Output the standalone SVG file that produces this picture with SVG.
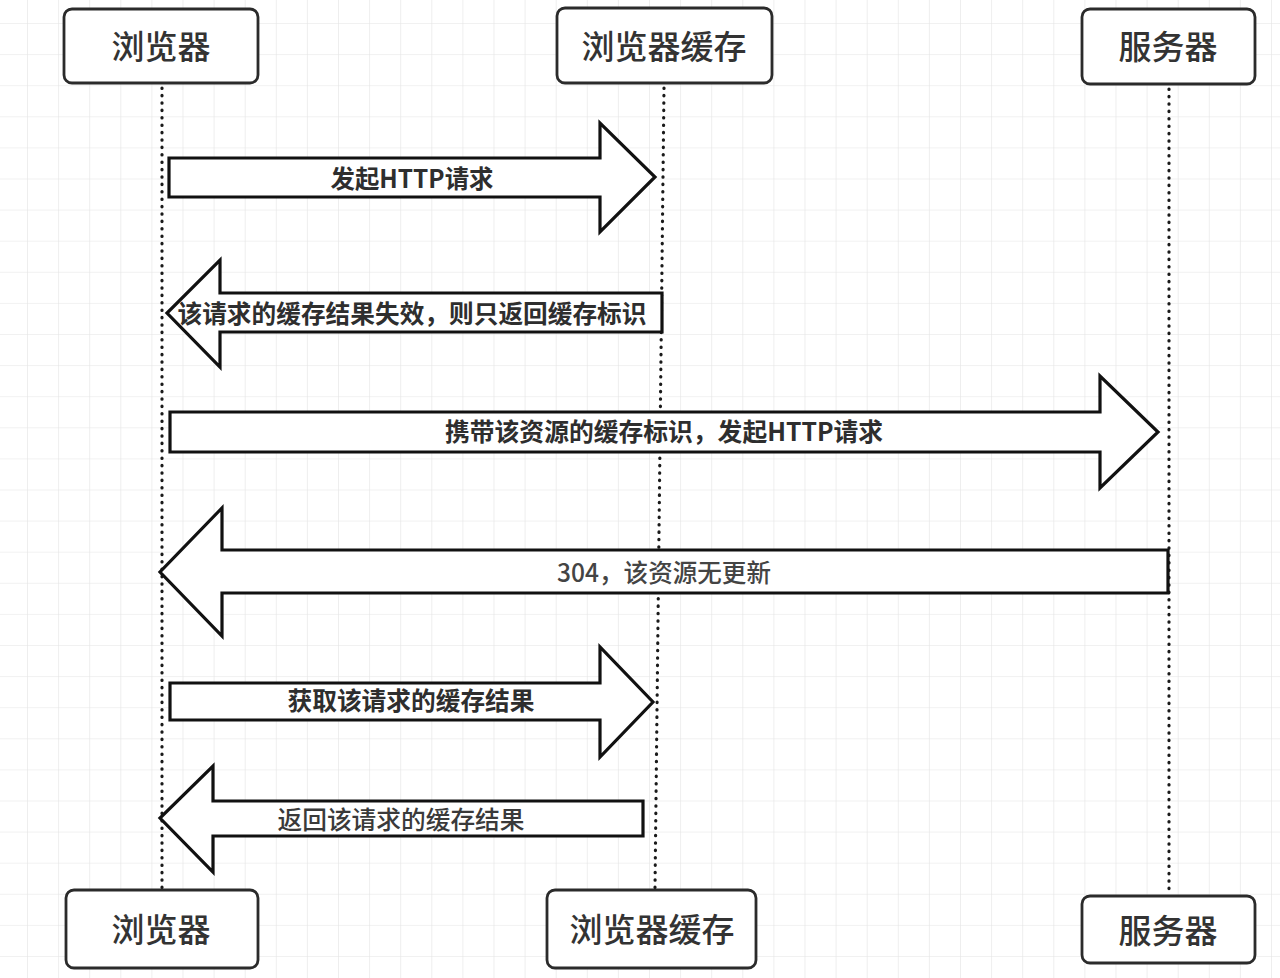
<svg xmlns="http://www.w3.org/2000/svg" width="1280" height="978" viewBox="0 0 1280 978">
<style>
.box{fill:#fff;stroke:#2b2b2b;stroke-width:2.8}
.nt{font-family:"Noto Sans CJK SC","Noto Sans",sans-serif;font-size:33px;font-weight:500;fill:#333;text-anchor:middle;dominant-baseline:central}
.life{stroke:#1a1a1a;stroke-width:3.2;stroke-linecap:round;stroke-dasharray:0.4 7;fill:none}
.arr{fill:#fff;stroke:#111;stroke-width:3.2;stroke-linejoin:miter}
.lt{font-family:"Noto Sans CJK SC","Noto Sans",sans-serif;font-size:25px;font-weight:bold;fill:#2e2e2e;text-anchor:middle;dominant-baseline:central}
</style>
<defs>
<pattern id="grid" x="27" y="23" width="31.1" height="31.1" patternUnits="userSpaceOnUse">
<path d="M0,0 H31.1 M0,0 V31.1" stroke="#e4e4e4" stroke-width="1.2" fill="none"/>
</pattern>
</defs>
<rect width="1280" height="978" fill="#fff"/>
<rect width="1280" height="978" fill="url(#grid)"/>
<g id="lifelines">
<line class="life" x1="162" y1="88" x2="162" y2="888"/>
<line class="life" x1="664" y1="88" x2="655" y2="888"/>
<line class="life" x1="1169" y1="89" x2="1169" y2="894"/>
</g>
<g id="connectors">
<path class="arr" d="M169,158 L600,158 L600,123 L655,177 L600,232 L600,197 L169,197 Z"/>
<text class="lt" x="412" y="177" textLength="163" lengthAdjust="spacingAndGlyphs">发起HTTP请求</text>
<path class="arr" d="M662,293 L220,293 L220,260 L167,313 L220,367 L220,332 L662,332 Z"/>
<text class="lt" x="412" y="312" textLength="469" lengthAdjust="spacingAndGlyphs">该请求的缓存结果失效，则只返回缓存标识</text>
<path class="arr" d="M170,412 L1100,412 L1100,376 L1158,432 L1100,488 L1100,452 L170,452 Z"/>
<text class="lt" x="664" y="430" textLength="438" lengthAdjust="spacingAndGlyphs">携带该资源的缓存标识，发起HTTP请求</text>
<path class="arr" d="M1168,550 L222,550 L222,508 L160,572 L222,636 L222,593 L1168,593 Z"/>
<text class="lt" x="664" y="571" textLength="214" lengthAdjust="spacingAndGlyphs" style="font-weight:500;fill:#444">304，该资源无更新</text>
<path class="arr" d="M170,683 L600,683 L600,647 L653,702 L600,757 L600,720 L170,720 Z"/>
<text class="lt" x="411" y="699" textLength="247" lengthAdjust="spacingAndGlyphs">获取该请求的缓存结果</text>
<path class="arr" d="M643,801 L213,801 L213,766 L160,818 L213,872 L213,836 L643,836 Z"/>
<text class="lt" x="401" y="818" textLength="247" lengthAdjust="spacingAndGlyphs" style="font-weight:500;fill:#3a3a3a">返回该请求的缓存结果</text>
</g>
<g id="browser-top"><rect class="box" x="64" y="9" width="194" height="74" rx="8"/><text class="nt" x="161" y="45">浏览器</text></g>
<g id="cache-top"><rect class="box" x="557" y="8" width="215" height="75" rx="8"/><text class="nt" x="664" y="45">浏览器缓存</text></g>
<g id="server-top"><rect class="box" x="1082" y="9" width="173" height="75" rx="8"/><text class="nt" x="1168" y="45">服务器</text></g>
<g id="browser-bottom"><rect class="box" x="66" y="890" width="192" height="78" rx="8"/><text class="nt" x="161" y="928">浏览器</text></g>
<g id="cache-bottom"><rect class="box" x="547" y="890" width="209" height="78" rx="8"/><text class="nt" x="652" y="928">浏览器缓存</text></g>
<g id="server-bottom"><rect class="box" x="1082" y="896" width="173" height="67" rx="8"/><text class="nt" x="1168" y="929">服务器</text></g>
</svg>
